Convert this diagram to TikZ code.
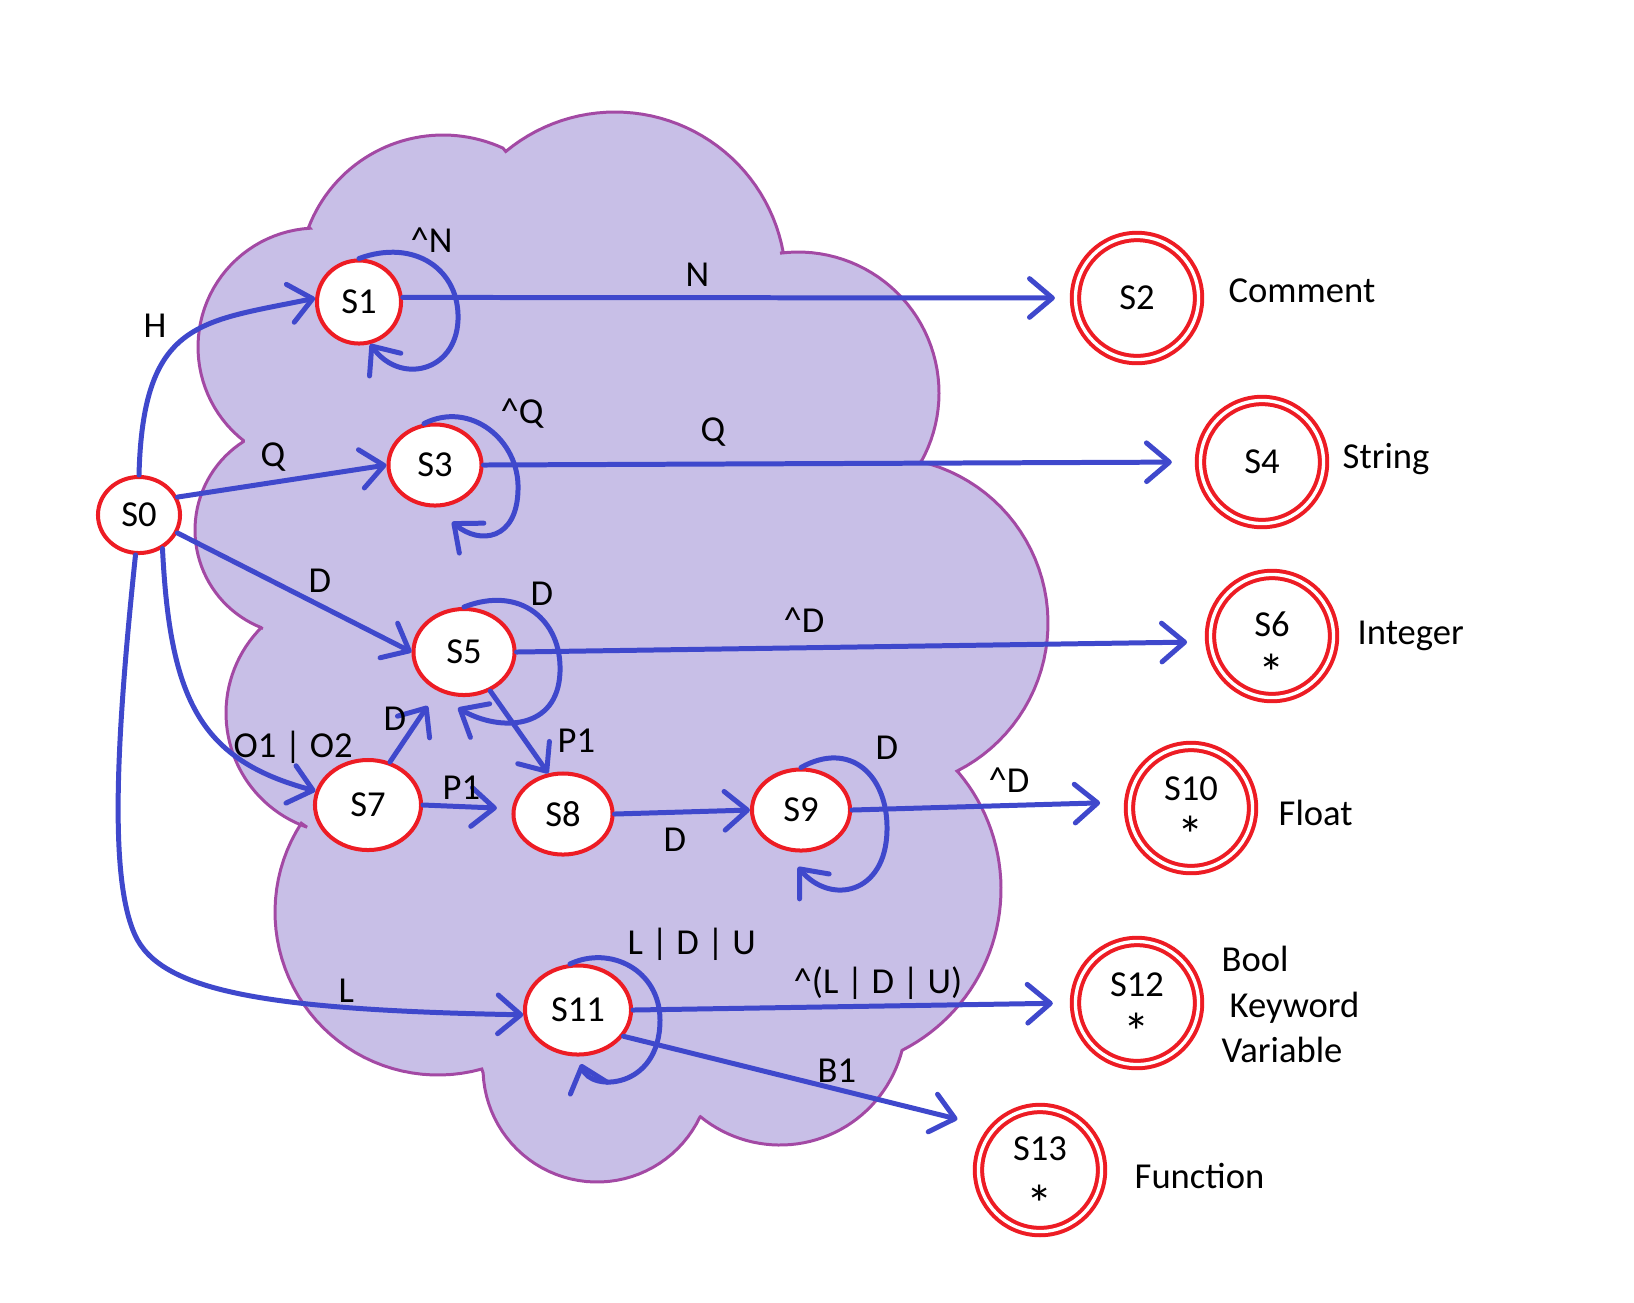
\documentclass[tikz,border=0pt]{standalone}
\usepackage{fontspec}
\setmainfont{Carlito}
\usetikzlibrary{shapes.geometric,arrows.meta}
\definecolor{pred}{RGB}{237,28,36}
\definecolor{pblue}{RGB}{63,72,204}
\definecolor{cloudfill}{RGB}{200,191,231}
\definecolor{cloudline}{RGB}{163,73,164}
\newcommand{\lblsize}{\fontsize{10.4}{12.5}\selectfont}
% name over star, inside an accepting state: #1 name, #2 raise of name, #3 raise of star
\newcommand{\namestar}[3]{\smash{\makebox[0pt]{\raisebox{#2}{#1}}}\smash{\makebox[0pt]{\raisebox{#3}{\fontsize{15}{15}\selectfont *}}}}
\begin{document}
\begin{tikzpicture}[x=0.01cm,y=-0.01cm,
  st/.style={ellipse,draw=pred,fill=white,line width=1.14pt,inner sep=0pt,font=\lblsize},
  acc/.style={circle,draw=pred,double=white,double distance=0.95pt,line width=1.14pt,fill=white,minimum size=1.23cm,inner sep=0pt,outer sep=0.056cm,align=center,font=\lblsize},
  tr/.style={draw=pblue,line width=1.42pt,line cap=round,-{Straight Barb[length=6.5pt,width=11pt,round]}},
  lbl/.style={anchor=base west,inner sep=0pt,font=\lblsize}]
\useasboundingbox (0,0) rectangle (1634,1302);
% cloud
\filldraw[fill=cloudfill,draw=cloudline,line width=0.85pt,line join=miter,miter limit=4]
  plot[domain=-158.8:-65.4,samples=40] ({443+144*cos(\x)},{279+144*sin(\x)})
  -- plot[domain=-129.7:-10.3,samples=40] ({615+171*cos(\x)},{283+171*sin(\x)})
  -- plot[domain=-97.3:29.3,samples=40] ({798+141*cos(\x)},{393+141*sin(\x)})
  -- plot[domain=-76.4:63.1,samples=40] ({882+166*cos(\x)},{623+166*sin(\x)})
  -- plot[domain=-40.1:63.0,samples=40] ({820+181*cos(\x)},{889+181*sin(\x)})
  -- plot[domain=14.1:129.2,samples=40] ({780+126*cos(\x)},{1019+126*sin(\x)})
  -- plot[domain=25.4:177.5,samples=40] ({597+114*cos(\x)},{1068+114*sin(\x)})
  -- plot[domain=74.4:213,samples=40] ({438+163*cos(\x)},{912+163*sin(\x)})
  -- plot[domain=109.3:225.3,samples=40] ({347+121*cos(\x)},{713+121*sin(\x)})
  -- plot[domain=111.4:237.4,samples=40] ({300+105*cos(\x)},{530+105*sin(\x)})
  -- plot[domain=128.2:266.6,samples=40] ({317+119*cos(\x)},{347+119*sin(\x)})
  -- cycle;
% states
\node[st,minimum width=0.82cm,minimum height=0.76cm] (S0) at (139,515) {S0};
\node[st,minimum width=0.84cm,minimum height=0.83cm] (S1) at (359,302) {S1};
\node[st,minimum width=0.93cm,minimum height=0.81cm] (S3) at (435,465) {S3};
\node[st,minimum width=1.01cm,minimum height=0.86cm] (S5) at (464,652) {S5};
\node[st,minimum width=1.06cm,minimum height=0.90cm] (S7) at (368,805) {S7};
\node[st,minimum width=0.99cm,minimum height=0.81cm] (S8) at (563,814) {S8};
\node[st,minimum width=0.98cm,minimum height=0.81cm] (S9) at (801,810) {S9};
\node[st,minimum width=1.06cm,minimum height=0.89cm] (S11) at (578,1010) {S11};
\node[acc] (S2) at (1137,298) {S2};
\node[acc] (S4) at (1262,462) {S4};
\node[acc] (S6) at (1272,636) {\namestar{S6}{0pt}{-15.7pt}};
\node[acc] (S10) at (1191,808) {\namestar{S10}{2pt}{-12.9pt}};
\node[acc] (S12) at (1137,1003) {\namestar{S12}{1.75pt}{-13.4pt}};
\node[acc] (S13) at (1040,1170) {\namestar{S13}{2.6pt}{-14.8pt}};
% loop ends
\coordinate (S3e) at (452,522);
\coordinate (S5e) at (458,708);
\coordinate (S9e) at (798,867);
\coordinate (S11e) at (581,1064);
% transitions
\draw[tr] (S0.north) .. controls (143,320) and (200,322) .. (S1.175);
\draw[tr] (S0.25) -- (S3.west);
\draw[tr] (S0.-25) -- (S5.west);
\draw[tr] (S0.305) .. controls (170,700) and (200,760) .. (S7.165);
\draw[tr] (S0.265) .. controls (115,750) and (110,880) .. (135,935) .. controls (160,990) and (260,1010) .. (S11.185);
\draw[tr] (S1.north) .. controls (415,238) and (460,270) .. (458,320) .. controls (456,372) and (400,385) .. (S1.285);
\draw[tr] (S3.105) .. controls (470,400) and (520,440) .. (518,490) .. controls (517,540) and (480,545) .. (S3e);
\draw[tr] (S5.north) .. controls (520,585) and (562,620) .. (560,672) .. controls (558,730) and (500,732) .. (S5e);
\draw[tr] (S9.north) .. controls (850,740) and (888,775) .. (887,830) .. controls (886,895) and (830,905) .. (S9e);
\draw[tr] (S11.100) .. controls (610,945) and (660,970) .. (660,1020) .. controls (660,1090) and (590,1092) .. (S11e);
\draw[tr,shorten >=0.15cm] (S1.6) -- (S2.west);
\draw[tr,shorten >=0.23cm] (S3.east) -- (S4.west);
\draw[tr,shorten >=0.18cm] (S5.east) -- (S6.185);
\draw[tr,shorten >=0.18cm] (S7.63) -- (S5);
\draw[tr] (S5.-56) -- (S8.110);
\draw[tr,shorten >=0.15cm] (S7.east) -- (S8.174);
\draw[tr] (S8.east) -- (S9.west);
\draw[tr,shorten >=0.24cm] (S9.east) -- (S10.175);
\draw[tr,shorten >=0.17cm] (S11.east) -- (S12.west);
\draw[tr,shorten >=0.32cm] (S11.-30) -- (S13.140);
% labels
\node[lbl] (l1) at (143,337) {H};
\node[lbl] (l2) at (410,252) {\textasciicircum N};
\node[lbl] (l3) at (260,466) {Q};
\node[lbl] (l4) at (500,423) {\textasciicircum Q};
\node[lbl] (l5) at (685,286) {N};
\node[lbl] (l6) at (700,441) {Q};
\node[lbl] (l7) at (308,592) {D};
\node[lbl] (l8) at (530,605) {D};
\node[lbl] (l9) at (783,632) {\textasciicircum D};
\node[lbl] (l10) at (383,730) {D};
\node[lbl] (l11) at (233,757) {O1 | O2};
\node[lbl] (l12) at (557,752) {P1};
\node[lbl] (l13) at (442,799) {P1};
\node[lbl] (l14) at (663,851) {D};
\node[lbl] (l15) at (875,759) {D};
\node[lbl] (l16) at (988,792) {\textasciicircum D};
\node[lbl] (l17) at (338,1002) {L};
\node[lbl] (l18) at (627,954) {L | D | U};
\node[lbl] (l19) at (793,993) {\textasciicircum (L | D | U)};
\node[lbl] (l20) at (817,1082) {B1};
\node[lbl] (l21) at (1228,302) {Comment};
\node[lbl] (l22) at (1342,468) {String};
\node[lbl] (l23) at (1357,644) {Integer};
\node[lbl] (l24) at (1278,825) {Float};
\node[lbl] (l25) at (1221,971) {Bool};
\node[lbl] (l26) at (1229,1017) {Keyword};
\node[lbl] (l27) at (1221,1062) {Variable};
\node[lbl] (l28) at (1134,1188) {Function};
\end{tikzpicture}
\end{document}
